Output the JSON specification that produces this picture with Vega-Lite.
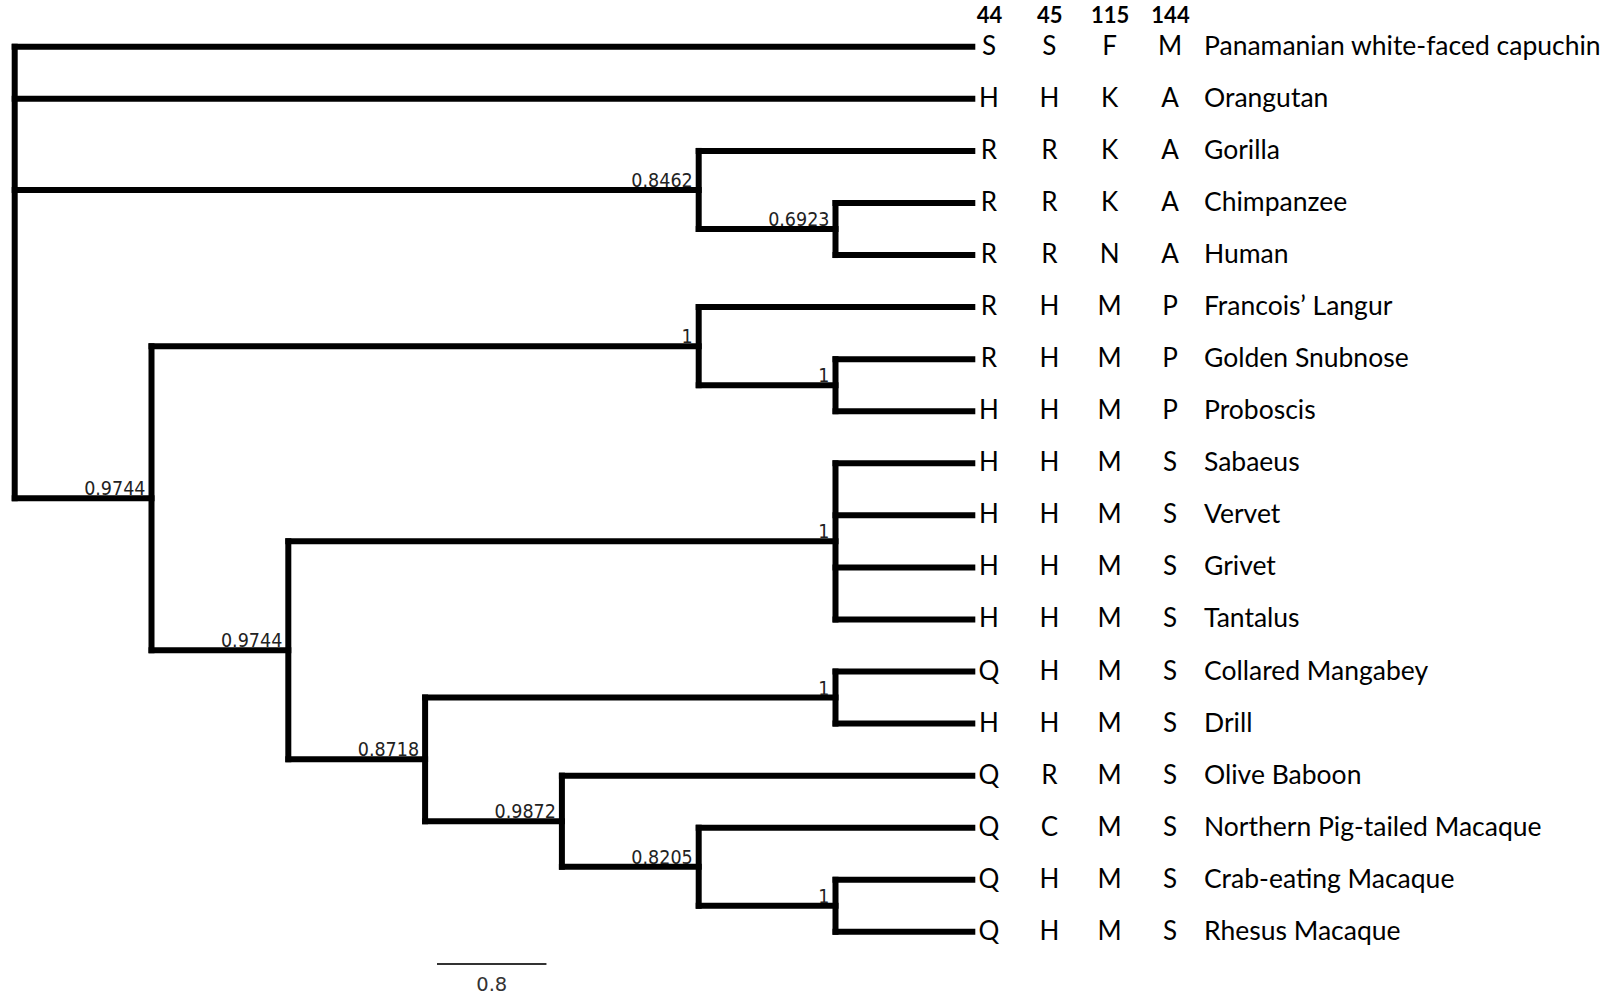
{
  "$schema": "https://vega.github.io/schema/vega-lite/v6.json",
  "width": 1605,
  "height": 1002,
  "padding": 0,
  "autosize": "none",
  "background": "white",
  "config": {"view": {"stroke": null}},
  "datasets": {
    "branches": [
      {"x0": 0, "x1": 7, "y0": 0, "y1": 0},
      {"x0": 0, "x1": 7, "y0": 1, "y1": 1},
      {"x0": 5, "x1": 7, "y0": 2, "y1": 2},
      {"x0": 6, "x1": 7, "y0": 3, "y1": 3},
      {"x0": 6, "x1": 7, "y0": 4, "y1": 4},
      {"x0": 5, "x1": 7, "y0": 5, "y1": 5},
      {"x0": 6, "x1": 7, "y0": 6, "y1": 6},
      {"x0": 6, "x1": 7, "y0": 7, "y1": 7},
      {"x0": 6, "x1": 7, "y0": 8, "y1": 8},
      {"x0": 6, "x1": 7, "y0": 9, "y1": 9},
      {"x0": 6, "x1": 7, "y0": 10, "y1": 10},
      {"x0": 6, "x1": 7, "y0": 11, "y1": 11},
      {"x0": 6, "x1": 7, "y0": 12, "y1": 12},
      {"x0": 6, "x1": 7, "y0": 13, "y1": 13},
      {"x0": 4, "x1": 7, "y0": 14, "y1": 14},
      {"x0": 5, "x1": 7, "y0": 15, "y1": 15},
      {"x0": 6, "x1": 7, "y0": 16, "y1": 16},
      {"x0": 6, "x1": 7, "y0": 17, "y1": 17},
      {"x0": 0, "x1": 5, "y0": 2.75, "y1": 2.75},
      {"x0": 5, "x1": 6, "y0": 3.5, "y1": 3.5},
      {"x0": 0, "x1": 1, "y0": 8.671875, "y1": 8.671875},
      {"x0": 1, "x1": 5, "y0": 5.75, "y1": 5.75},
      {"x0": 5, "x1": 6, "y0": 6.5, "y1": 6.5},
      {"x0": 1, "x1": 2, "y0": 11.59375, "y1": 11.59375},
      {"x0": 2, "x1": 6, "y0": 9.5, "y1": 9.5},
      {"x0": 2, "x1": 3, "y0": 13.6875, "y1": 13.6875},
      {"x0": 3, "x1": 6, "y0": 12.5, "y1": 12.5},
      {"x0": 3, "x1": 4, "y0": 14.875, "y1": 14.875},
      {"x0": 4, "x1": 5, "y0": 15.75, "y1": 15.75},
      {"x0": 5, "x1": 6, "y0": 16.5, "y1": 16.5},
      {"x0": 0, "x1": 0, "y0": 0, "y1": 8.671875},
      {"x0": 5, "x1": 5, "y0": 2, "y1": 3.5},
      {"x0": 6, "x1": 6, "y0": 3, "y1": 4},
      {"x0": 1, "x1": 1, "y0": 5.75, "y1": 11.59375},
      {"x0": 5, "x1": 5, "y0": 5, "y1": 6.5},
      {"x0": 6, "x1": 6, "y0": 6, "y1": 7},
      {"x0": 2, "x1": 2, "y0": 9.5, "y1": 13.6875},
      {"x0": 6, "x1": 6, "y0": 8, "y1": 11},
      {"x0": 3, "x1": 3, "y0": 12.5, "y1": 14.875},
      {"x0": 6, "x1": 6, "y0": 12, "y1": 13},
      {"x0": 4, "x1": 4, "y0": 14, "y1": 15.75},
      {"x0": 5, "x1": 5, "y0": 15, "y1": 16.5},
      {"x0": 6, "x1": 6, "y0": 16, "y1": 17}
    ],
    "support": [
      {"x": 5, "y": 2.75, "label": "0.8462"},
      {"x": 6, "y": 3.5, "label": "0.6923"},
      {"x": 1, "y": 8.671875, "label": "0.9744"},
      {"x": 5, "y": 5.75, "label": "1"},
      {"x": 6, "y": 6.5, "label": "1"},
      {"x": 2, "y": 11.59375, "label": "0.9744"},
      {"x": 6, "y": 9.5, "label": "1"},
      {"x": 3, "y": 13.6875, "label": "0.8718"},
      {"x": 6, "y": 12.5, "label": "1"},
      {"x": 4, "y": 14.875, "label": "0.9872"},
      {"x": 5, "y": 15.75, "label": "0.8205"},
      {"x": 6, "y": 16.5, "label": "1"}
    ],
    "scalebar": [
      {"x0": 3.087, "x1": 3.887, "xmid": 3.487, "y": 17.62, "label": "0.8"}
    ],
    "taxa": [
      {"idx": 0, "name": "Panamanian white-faced capuchin", "44": "S", "45": "S", "115": "F", "144": "M"},
      {"idx": 1, "name": "Orangutan", "44": "H", "45": "H", "115": "K", "144": "A"},
      {"idx": 2, "name": "Gorilla", "44": "R", "45": "R", "115": "K", "144": "A"},
      {"idx": 3, "name": "Chimpanzee", "44": "R", "45": "R", "115": "K", "144": "A"},
      {"idx": 4, "name": "Human", "44": "R", "45": "R", "115": "N", "144": "A"},
      {"idx": 5, "name": "Francois’ Langur", "44": "R", "45": "H", "115": "M", "144": "P"},
      {"idx": 6, "name": "Golden Snubnose", "44": "R", "45": "H", "115": "M", "144": "P"},
      {"idx": 7, "name": "Proboscis", "44": "H", "45": "H", "115": "M", "144": "P"},
      {"idx": 8, "name": "Sabaeus", "44": "H", "45": "H", "115": "M", "144": "S"},
      {"idx": 9, "name": "Vervet", "44": "H", "45": "H", "115": "M", "144": "S"},
      {"idx": 10, "name": "Grivet", "44": "H", "45": "H", "115": "M", "144": "S"},
      {"idx": 11, "name": "Tantalus", "44": "H", "45": "H", "115": "M", "144": "S"},
      {"idx": 12, "name": "Collared Mangabey", "44": "Q", "45": "H", "115": "M", "144": "S"},
      {"idx": 13, "name": "Drill", "44": "H", "45": "H", "115": "M", "144": "S"},
      {"idx": 14, "name": "Olive Baboon", "44": "Q", "45": "R", "115": "M", "144": "S"},
      {"idx": 15, "name": "Northern Pig-tailed Macaque", "44": "Q", "45": "C", "115": "M", "144": "S"},
      {"idx": 16, "name": "Crab-eating Macaque", "44": "Q", "45": "H", "115": "M", "144": "S"},
      {"idx": 17, "name": "Rhesus Macaque", "44": "Q", "45": "H", "115": "M", "144": "S"}
    ]
  },
  "layer": [
    {
      "encoding": {
        "y": {"type": "quantitative", "scale": {"domain": [-0.899, 18.348], "reverse": true, "nice": false, "zero": false}, "axis": null}
      },
      "layer": [
        {
          "data": {"name": "branches"},
          "mark": {"type": "rule", "color": "black", "strokeWidth": 6, "strokeCap": "square"},
          "encoding": {
            "x": {"field": "x0", "type": "quantitative", "scale": {"domain": [-0.1075, 11.625], "nice": false, "zero": false}, "axis": null},
            "x2": {"field": "x1"},
            "y": {"field": "y0", "type": "quantitative"},
            "y2": {"field": "y1"}
          }
        },
        {
          "data": {"name": "support"},
          "mark": {"type": "text", "align": "right", "baseline": "alphabetic", "dx": -6, "dy": -3, "font": "DejaVu Sans Condensed", "fontSize": 19.5, "color": "#222"},
          "encoding": {
            "x": {"field": "x", "type": "quantitative"},
            "y": {"field": "y", "type": "quantitative"},
            "text": {"field": "label"}
          }
        },
        {
          "data": {"name": "scalebar"},
          "mark": {"type": "rule", "color": "#333", "strokeWidth": 2},
          "encoding": {
            "x": {"field": "x0", "type": "quantitative"},
            "x2": {"field": "x1"},
            "y": {"field": "y", "type": "quantitative"}
          }
        },
        {
          "data": {"name": "scalebar"},
          "mark": {"type": "text", "align": "center", "baseline": "middle", "dy": 21, "font": "DejaVu Sans", "fontSize": 19.5, "color": "#333"},
          "encoding": {
            "x": {"field": "xmid", "type": "quantitative"},
            "y": {"field": "y", "type": "quantitative"},
            "text": {"field": "label"}
          }
        }
      ]
    },
    {
      "data": {"name": "taxa"},
      "transform": [{"fold": ["44", "45", "115", "144"], "as": ["site", "aa"]}],
      "encoding": {
        "x": {
          "field": "site",
          "type": "nominal",
          "scale": {"type": "point", "domain": ["44", "45", "115", "144"], "range": [989, 1170], "padding": 0},
          "axis": {"orient": "top", "title": null, "domain": false, "ticks": false, "tickSize": 0, "labelPadding": 0, "offset": -15, "labelBaseline": "middle", "labelAngle": 0, "labelFont": "Lato", "labelFontWeight": "bold", "labelFontSize": 22, "labelColor": "black", "grid": false}
        },
        "y": {"field": "idx", "type": "quantitative"}
      },
      "layer": [
        {
          "mark": {"type": "text", "align": "center", "baseline": "middle", "font": "Lato", "fontSize": 26, "color": "black"},
          "encoding": {"text": {"field": "aa"}}
        },
        {
          "transform": [{"filter": {"field": "site", "equal": "144"}}],
          "mark": {"type": "text", "align": "left", "baseline": "middle", "dx": 34, "font": "Lato", "fontSize": 26.5, "color": "black"},
          "encoding": {"text": {"field": "name"}}
        }
      ]
    }
  ],
  "resolve": {"scale": {"x": "independent"}, "axis": {"x": "independent"}}
}
